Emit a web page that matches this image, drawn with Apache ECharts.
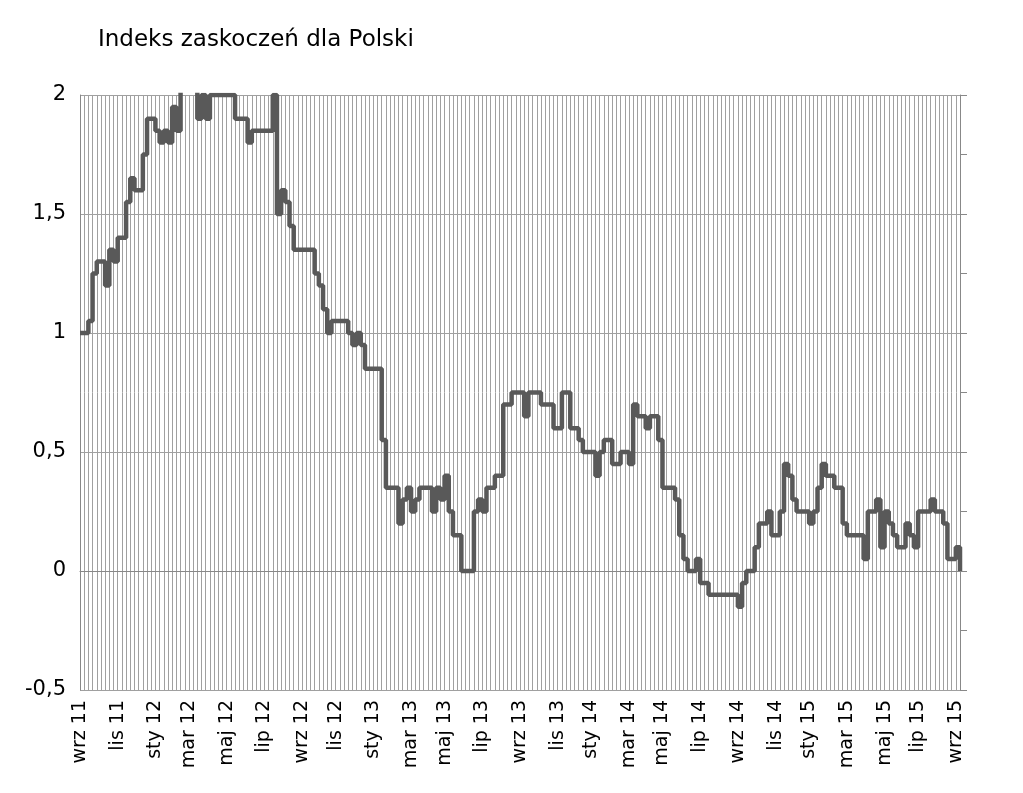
<!DOCTYPE html><html><head><meta charset="utf-8"><script src="https://cdn.jsdelivr.net/npm/echarts@6/dist/echarts.min.js"></script></head><body style="margin:0;background:#fff"><div id="c" style="width:1023px;height:793px"></div><script>
const monthNames=['sty','lut','mar','kwi','maj','cze','lip','sie','wrz','paź','lis','gru'];
const startDate='2011-09-01';
const weekCount=211;
// [week index, value] breakpoints of the step line
const points=[[0,1.0],[2,1.05],[3,1.25],[4,1.3],[6,1.2],[7,1.35],[8,1.3],[9,1.4],[11,1.55],[12,1.65],[13,1.6],[15,1.75],[16,1.9],[18,1.85],[19,1.8],[20,1.85],[21,1.8],[22,1.95],[23,1.85],[24,2.05],[26,2.05],[28,1.9],[29,2.0],[30,1.9],[31,2.0],[37,1.9],[40,1.8],[41,1.85],[45,1.85],[46,2.0],[47,1.5],[48,1.6],[49,1.55],[50,1.45],[51,1.35],[55,1.35],[56,1.25],[57,1.2],[58,1.1],[59,1.0],[60,1.05],[63,1.05],[64,1.0],[65,0.95],[66,1.0],[67,0.95],[68,0.85],[71,0.85],[72,0.55],[73,0.35],[75,0.35],[76,0.2],[77,0.3],[78,0.35],[79,0.25],[80,0.3],[81,0.35],[83,0.35],[84,0.25],[85,0.35],[86,0.3],[87,0.4],[88,0.25],[89,0.15],[91,0.0],[93,0.0],[94,0.25],[95,0.3],[96,0.25],[97,0.35],[99,0.4],[101,0.7],[103,0.75],[106,0.65],[107,0.75],[110,0.7],[113,0.6],[115,0.75],[117,0.6],[119,0.55],[120,0.5],[123,0.4],[124,0.5],[125,0.55],[127,0.45],[129,0.5],[131,0.45],[132,0.7],[133,0.65],[135,0.6],[136,0.65],[138,0.55],[139,0.35],[142,0.3],[143,0.15],[144,0.05],[145,0.0],[147,0.05],[148,-0.05],[150,-0.1],[157,-0.15],[158,-0.05],[159,0.0],[161,0.1],[162,0.2],[164,0.25],[165,0.15],[167,0.25],[168,0.45],[169,0.4],[170,0.3],[171,0.25],[174,0.2],[175,0.25],[176,0.35],[177,0.45],[178,0.4],[180,0.35],[182,0.2],[183,0.15],[187,0.05],[188,0.25],[190,0.3],[191,0.1],[192,0.25],[193,0.2],[194,0.15],[195,0.1],[197,0.2],[198,0.15],[199,0.1],[200,0.25],[203,0.3],[204,0.25],[206,0.2],[207,0.05],[209,0.1],[210,0.0]];
const cats=[];const d0=new Date(startDate+'T00:00:00Z');
for(let i=0;i<weekCount;i++){const d=new Date(d0.getTime()+i*7*864e5);cats.push(d.toISOString().slice(0,10));}
function lbl(i){const d=new Date(cats[i]+'T00:00:00Z');const m=d.getUTCMonth();if(m%2!==0||d.getUTCDate()>7)return '';return monthNames[m]+' '+String(d.getUTCFullYear()).slice(2);}
const ch=echarts.init(document.getElementById('c'));
ch.setOption({animation:false,
title:{text:'Indeks zaskoczeń dla Polski',left:93,top:24,textStyle:{fontFamily:'DejaVu Sans',fontSize:23,fontWeight:'normal',color:'#000'}},
grid:{left:80,right:63,top:95,bottom:103},
xAxis:{type:'category',data:cats,boundaryGap:false,axisLine:{lineStyle:{color:'#888'}},axisTick:{show:false},
 axisLabel:{interval:(i)=>lbl(i)!=='',formatter:(v,i)=>lbl(i),rotate:90,fontFamily:'DejaVu Sans',fontSize:19,color:'#000',margin:10},
 splitLine:{show:true,interval:0,lineStyle:{color:'#a0a0a0',width:1}}},
yAxis:[{type:'value',min:-0.5,max:2,interval:0.5,axisLine:{show:true,lineStyle:{color:'#888'}},axisTick:{show:false},
 axisLabel:{formatter:v=>String(v).replace('.',','),fontFamily:'DejaVu Sans',fontSize:21,color:'#000',margin:14},
 splitLine:{lineStyle:{color:'#a0a0a0'}}},
 {type:'value',position:'right',min:-0.5,max:2,interval:0.25,axisLine:{show:true,lineStyle:{color:'#888'}},axisTick:{show:true,length:7,lineStyle:{color:'#888'}},axisLabel:{show:false},splitLine:{show:false}}],
series:[{type:'line',step:'end',data:points,showSymbol:false,lineStyle:{color:'#595959',width:4.5},clip:true}]});
</script></body></html>
